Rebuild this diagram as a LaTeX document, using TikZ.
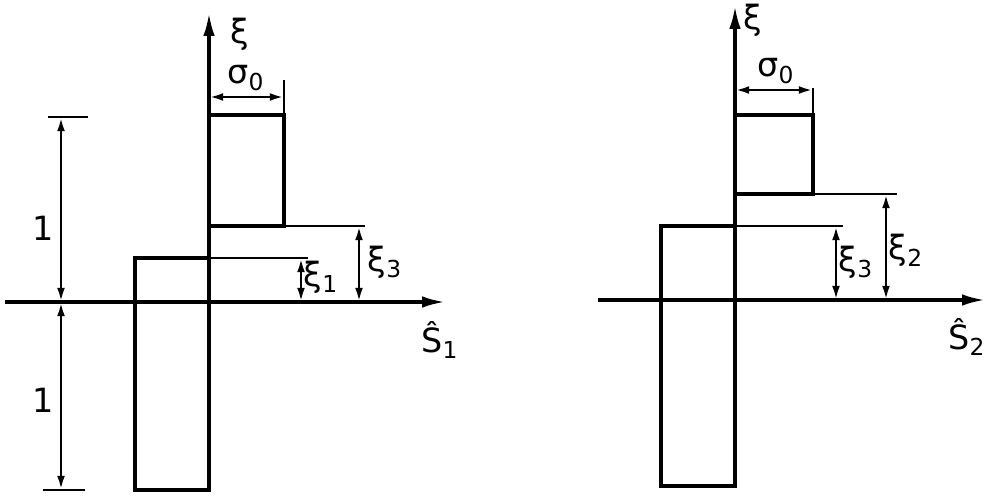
\documentclass[tikz,border=0pt]{standalone}
\usepackage{fontspec}
\setmainfont{DejaVu Sans}
\usetikzlibrary{arrows.meta}
\tikzset{
  bar/.style={line width=2.6pt, line cap=rect},
  axis/.style={line width=1.8pt, -{Latex[length=13pt,width=6.5pt]}},
  guide/.style={line width=1.5pt},
  dim/.style={line width=1.5pt, {Latex[length=8pt,width=4.4pt]}-{Latex[length=8pt,width=4.4pt]}},
  lbl/.style={font=\fontsize{19}{22}\selectfont, inner sep=0pt}
}
\newcommand{\sbx}[1]{\textsubscript{#1}}
\begin{document}
\begin{tikzpicture}[x=0.02cm,y=-0.02cm]
\useasboundingbox (0,0) rectangle (1000,497);
% ---------- left figure ----------
\coordinate (La0) at (5,302);
\coordinate (La1) at (445,302);
\coordinate (Lv0) at (209,490);
\coordinate (Lv1) at (209,13);
\draw[axis] (La0) -- (La1);
\draw[axis] (Lv0) -- (Lv1);
% lower rectangle
\draw[bar] (209,258) -- (135,258) -- (135,490) -- (209,490);
% upper rectangle
\draw[bar] (209,115) -- (284,115) -- (284,226) -- (209,226);
\draw[bar] (209,226) -- (209,490);
% guide lines
\draw[guide] (284,226) -- (365,226);
\draw[guide] (209,258) -- (308,258);
\draw[guide] (284,115) -- (284,80);
% dimensions
\coordinate (Lx1a) at (301,258); \coordinate (Lx1b) at (301,302);
\draw[dim] (Lx1a) -- (Lx1b);
\coordinate (Lx3a) at (359,226); \coordinate (Lx3b) at (359,302);
\draw[dim] (Lx3a) -- (Lx3b);
\coordinate (Lsa) at (209,97); \coordinate (Lsb) at (284,97);
\draw[dim] (Lsa) -- (Lsb);
\coordinate (Lt) at (61,117); \coordinate (Lm) at (61,302); \coordinate (Lb) at (61,490);
\draw[guide] (48,117) -- (88,117);
\draw[guide] (43,490) -- (85,490);
\draw[dim] (Lt) -- (Lm);
\draw[dim] (Lm) -- (Lb);
% labels
\node[lbl] (lxi) at (240,34) {ξ};
\node[lbl] (lsig) at (246,78) {σ\sbx{0}};
\node[lbl] (lone1) at (43,228) {1};
\node[lbl] (lone2) at (43,400) {1};
\node[lbl] (lx1) at (321,277) {ξ\sbx{1}};
\node[lbl] (lx3) at (385,262) {ξ\sbx{3}};
\node[lbl] (lS1) at (440,340) {Ŝ\sbx{1}};
% ---------- right figure ----------
\coordinate (Ra0) at (598,300);
\coordinate (Ra1) at (985,300);
\coordinate (Rv0) at (735,488);
\coordinate (Rv1) at (735,6);
\draw[axis] (Ra0) -- (Ra1);
\draw[axis] (Rv0) -- (Rv1);
\draw[bar] (735,226) -- (661,226) -- (661,486) -- (735,486);
\draw[bar] (735,115) -- (813,115) -- (813,194) -- (735,194);
\draw[bar] (735,194) -- (735,486);
\draw[guide] (813,194) -- (897,194);
\draw[guide] (735,226) -- (843,226);
\draw[guide] (813,115) -- (813,88);
\coordinate (Rx3a) at (836,226); \coordinate (Rx3b) at (836,300);
\draw[dim] (Rx3a) -- (Rx3b);
\coordinate (Rx2a) at (886,194); \coordinate (Rx2b) at (886,300);
\draw[dim] (Rx2a) -- (Rx2b);
\coordinate (Rsa) at (735,90); \coordinate (Rsb) at (813,90);
\draw[dim] (Rsa) -- (Rsb);
\node[lbl] (rxi) at (753,20) {ξ};
\node[lbl] (rsig) at (776,71) {σ\sbx{0}};
\node[lbl] (rx3) at (856,262) {ξ\sbx{3}};
\node[lbl] (rx2) at (906,250) {ξ\sbx{2}};
\node[lbl] (rS2) at (967,337) {Ŝ\sbx{2}};
\end{tikzpicture}
\end{document}
